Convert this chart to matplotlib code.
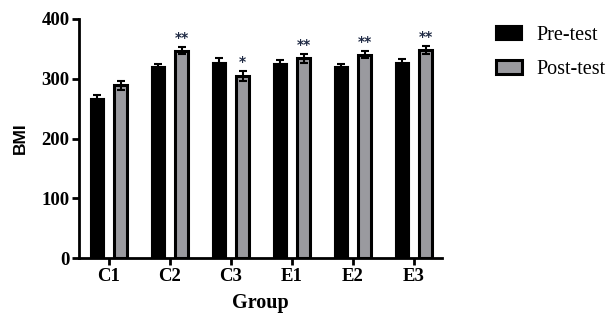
import matplotlib
matplotlib.use("Agg")
import matplotlib.pyplot as plt
import numpy as np

groups = ["C1", "C2", "C3", "E1", "E2", "E3"]
pre = [267, 319, 326, 324, 320, 327]
pre_err = [6, 5, 8, 7, 5, 6]
post = [289, 347, 305, 334, 340, 348]
post_err = [7, 6, 8, 7, 6, 7]
sig = ["", "**", "*", "**", "**", "**"]

fig = plt.figure(figsize=(6.11, 3.22), dpi=100)
ax = fig.add_axes([0.130, 0.198, 0.593, 0.743])

x = np.arange(len(groups))
w = 0.22
off = 0.19
ax.bar(x - off, pre, width=w, color="black", edgecolor="black", linewidth=1.5,
       yerr=pre_err, error_kw=dict(ecolor="black", elinewidth=1.5, capsize=3, capthick=1.5),
       label="Pre-test", zorder=2)
ax.bar(x + off, post, width=w, color="#9a9a9f", edgecolor="black", linewidth=2.2,
       yerr=post_err, error_kw=dict(ecolor="black", elinewidth=1.5, capsize=3, capthick=1.5),
       label="Post-test", zorder=2)

for xi, v, e, s in zip(x, post, post_err, sig):
    if s:
        ax.text(xi + off, v + e + 4, s, ha="center", va="bottom", fontsize=10,
                fontweight="bold", color="#1f2a44", family="DejaVu Sans")

ax.set_xlim(-0.484, 5.454)
ax.set_ylim(0, 400)
ax.set_yticks([0, 100, 200, 300, 400])
ax.set_xticks(x)
ax.set_xticklabels(groups)
for lab in ax.get_xticklabels() + ax.get_yticklabels():
    lab.set_fontfamily("Liberation Serif")
    lab.set_fontweight("bold")
    lab.set_fontsize(13.5)

for sp in ["top", "right"]:
    ax.spines[sp].set_visible(False)
for sp in ["left", "bottom"]:
    ax.spines[sp].set_linewidth(2)
ax.tick_params(axis="both", width=2, length=5, direction="out", pad=2)

ax.set_xlabel("Group", fontfamily="Liberation Serif", fontweight="bold", fontsize=14.5, labelpad=6)
ax.set_ylabel("BMI", fontfamily="Liberation Sans", fontweight="bold", fontsize=12.5, labelpad=10)

leg = fig.legend(loc="upper left", bbox_to_anchor=(0.782, 0.975), frameon=False,
                 prop=dict(family="Liberation Serif", size=14.5),
                 handlelength=1.3, handleheight=0.7, handletextpad=0.7, labelspacing=0.75)

fig.savefig("out.png", dpi=100)
